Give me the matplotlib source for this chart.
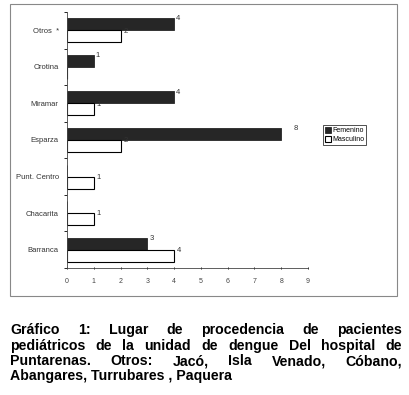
import numpy as np
import matplotlib
matplotlib.use('Agg')
import matplotlib.pyplot as plt
from matplotlib.patches import Rectangle

# data (bottom to top)
lugares = ['Barranca', 'Chacarita', 'Punt. Centro', 'Esparza', 'Miramar', 'Orotina', 'Otros  *']
femenino = [3, 0, 0, 8, 4, 1, 4]
masculino = [4, 1, 1, 2, 1, 0, 2]
x_ticks = [0, 1, 2, 3, 4, 5, 6, 7, 8, 9]

caption_lines = [
    'Gráfico 1: Lugar de procedencia de pacientes',
    'pediátricos de la unidad de dengue  Del hospital de',
    'Puntarenas. Otros: Jacó, Isla Venado, Cóbano,',
    'Abangares, Turrubares , Paquera',
]

plt.rcParams['font.family'] = ['Liberation Sans', 'DejaVu Sans']

W, H = 410, 395
fig = plt.figure(figsize=(W / 100, H / 100), dpi=100)
fig.patch.set_facecolor('white')

# outer frame of the chart
fig.patches.append(Rectangle((10 / W, 1 - 296 / H), 387 / W, 292 / H, transform=fig.transFigure,
                             fill=False, edgecolor='#888888', linewidth=0.8))

ax = fig.add_axes([67 / W, 1 - 268 / H, 241 / W, 256 / H])
y = np.arange(len(lugares))
h = 0.33
ax.barh(y + h / 2, femenino, height=h, color='#262626', edgecolor='#262626', linewidth=0.6, label='Femenino')
ax.barh(y - h / 2, masculino, height=h, color='white', edgecolor='black', linewidth=0.8, label='Masculino')

for yi, v in zip(y, femenino):
    if v > 0:
        off = 0.45 if v == 8 else 0.08
        ax.text(v + off, yi + h - 0.02, str(v), fontsize=5.5, va='center', ha='left', color='#333333')
for yi, v in zip(y, masculino):
    if v > 0:
        ax.text(v + 0.1, yi - 0.02, str(v), fontsize=5.5, va='center', ha='left', color='#333333')

ax.set_xlim(0, 9)
ax.set_ylim(-0.5, len(lugares) - 0.5)
ax.set_xticks(x_ticks)
ax.set_xticklabels([str(t) for t in x_ticks], fontsize=5, color='#444444')
ax.set_yticks(y)
ax.set_yticklabels(lugares, fontsize=5.5, color='#333333')
ax.tick_params(axis='y', length=0, pad=6)
ax.set_yticks(np.arange(-0.5, len(lugares), 1.0), minor=True)
ax.tick_params(axis='y', which='minor', length=2, width=0.6, direction='out')
ax.tick_params(axis='x', length=2, width=0.6, direction='inout', pad=6)
for s in ['top', 'right']:
    ax.spines[s].set_visible(False)
for s in ['left', 'bottom']:
    ax.spines[s].set_linewidth(0.6)
    ax.spines[s].set_color('#444444')
ax.set_facecolor('none')

leg = fig.legend(loc='upper left', bbox_to_anchor=(323 / W, 1 - 125 / H), fontsize=5,
                 frameon=True, fancybox=False, borderpad=0.25, handlelength=0.9, handleheight=0.9,
                 handletextpad=0.2, labelspacing=0.3, borderaxespad=0)
leg.get_frame().set_edgecolor('black')
leg.get_frame().set_linewidth(0.6)

# caption, justified lines
fig.canvas.draw()
renderer = fig.canvas.get_renderer()
left, right = 10, 402
ys = [330, 346, 361, 376]
fs = 10.2
for i, line in enumerate(caption_lines):
    words = line.split()
    yy = 1 - ys[i] / H
    if i == len(caption_lines) - 1:
        fig.text(left / W, yy, line, fontsize=fs, fontweight='bold', va='center', ha='left')
        continue
    texts = [fig.text(0, yy, w, fontsize=fs, fontweight='bold', va='center', ha='left') for w in words]
    widths = [t.get_window_extent(renderer).width for t in texts]
    gap = (right - left - sum(widths)) / (len(words) - 1)
    x = left
    for t, wd in zip(texts, widths):
        t.set_x(x / W)
        x += wd + gap

fig.savefig('out.png', dpi=100)
